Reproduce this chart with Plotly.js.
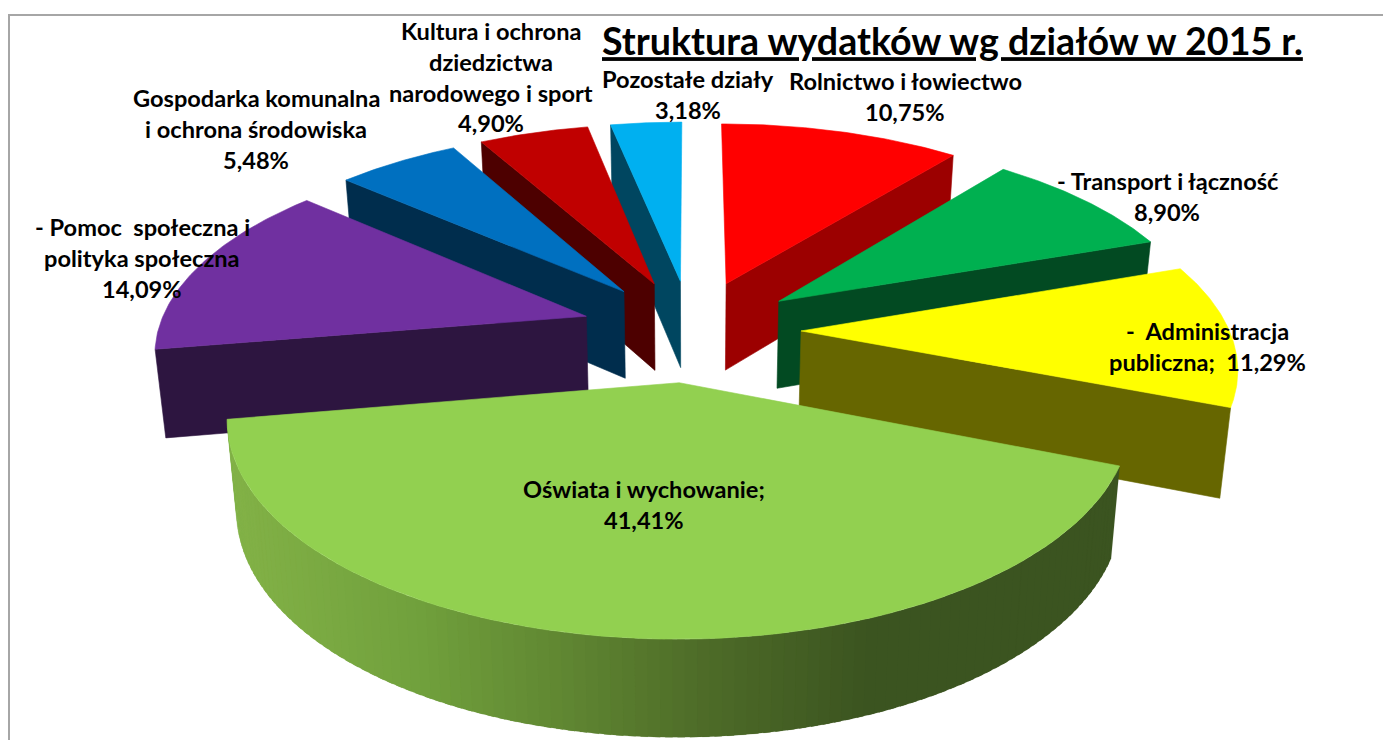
<!DOCTYPE html>
<html><head><meta charset="utf-8">
<script src="https://cdn.plot.ly/plotly-3.0.1.min.js"></script>
<style>html,body{margin:0;padding:0;background:#fff}#c{width:1383px;height:740px}</style>
</head><body><div id="c"></div>
<script>
// ---- data ----
const categories = ["Rolnictwo i łowiectwo","Transport i łączność","Administracja publiczna","Oświata i wychowanie","Pomoc społeczna i polityka społeczna","Gospodarka komunalna i ochrona środowiska","Kultura i ochrona dziedzictwa narodowego i sport","Pozostałe działy"];
const values = [10.75, 8.90, 11.29, 41.41, 14.09, 5.48, 4.90, 3.18];
const topColors = ["#FF0000","#00B050","#FFFF00","#92D050","#7030A0","#0070C0","#C00000","#00B0F0"];
const wallColors = ["#9C0000","#024A22","#666600","#3B5420","#2D1540","#002D4D","#4D0000","#004660"];
const labelLines = [
  ["Rolnictwo i łowiectwo","{p}"],
  ["- Transport i łączność","{p}"],
  ["-  Administracja","publiczna;  {p}"],
  ["Oświata i wychowanie;","{p}"],
  ["- Pomoc  społeczna i","polityka społeczna","{p}"],
  ["Gospodarka komunalna","i ochrona środowiska","{p}"],
  ["Kultura i ochrona","dziedzictwa","narodowego i sport","{p}"],
  ["Pozostałe działy","{p}"]
];
const titleText = "Struktura wydatków wg działów w 2015 r.";

// ---- layout / projection constants ----
const labelAnchors = [[905,81],[1167,181],[1207,331],[644,489],[142,227],[256,98],[491,31],[688,79]];
const lineGap = 30.8;
const P = {cx:691, cy:330, rx:428, ry:198, persp:0.156, pull:0.257, h:88, inset:0.98};
const drawOrder = [7,6,5,0,1,4,2,3];
const gradStops = [[228,[131,178,71]],[420,[112,160,60]],[560,[96,135,50]],[700,[78,108,40]],[870,[59,84,32]],[1400,[59,84,32]]];

function project(X,Y,bottom){
  const s = 1/(1+P.persp*Y);
  let x = P.cx + P.rx*X*s, y = P.cy - P.ry*Y*s;
  if(bottom){ x = P.cx + (x-P.cx)*P.inset; y += P.h*Math.sqrt(s); }
  return [x,y];
}
function gradColor(x){
  for(let i=1;i<gradStops.length;i++){
    if(x<=gradStops[i][0]){
      const a=gradStops[i-1], b=gradStops[i], t=Math.max(0,(x-a[0])/(b[0]-a[0]));
      const c=a[1].map((v,k)=>Math.round(v+(b[1][k]-v)*t));
      return `rgb(${c[0]},${c[1]},${c[2]})`;
    }
  }
  return "rgb(59,84,32)";
}
function poly(pts,color,w){
  const xs=pts.map(p=>p[0]).concat(pts[0][0]), ys=pts.map(p=>p[1]).concat(pts[0][1]);
  return {type:"scatter",mode:"lines",x:xs,y:ys,fill:"toself",fillcolor:color,
    line:{color:color,width:w||0.6},hoverinfo:"skip",showlegend:false};
}

const total = values.reduce((a,b)=>a+b,0);
let acc=0;
const slices = values.map((v,i)=>{
  const a0=acc/total*2*Math.PI; acc+=v; const a1=acc/total*2*Math.PI;
  const mid=(a0+a1)/2;
  return {i,a0,a1,mid,ox:P.pull*Math.sin(mid),oy:P.pull*Math.cos(mid)};
});
const traces=[];
drawOrder.forEach(idx=>{
  const S=slices[idx];
  const pt=(a,b)=>project(S.ox+Math.sin(a),S.oy+Math.cos(a),b);
  const apex=b=>project(S.ox,S.oy,b);
  if(S.a0>Math.PI/2 && S.a1>Math.PI*1.4 && S.a0<Math.PI){
    // the large front slice: rim wall with a lengthwise shading, each band overlapping the next
    const n=110;
    for(let k=0;k<n;k++){
      const a=S.a0+(S.a1-S.a0)*k/n, b=S.a0+(S.a1-S.a0)*(k+1.6)/n;
      const p=pt(S.a0+(S.a1-S.a0)*(k+0.5)/n,false);
      traces.push(poly([pt(a,false),pt(Math.min(b,S.a1),false),pt(Math.min(b,S.a1),true),pt(a,true)],gradColor(p[0]),0.1));
    }
  } else {
    const a=S.mid<Math.PI?S.a1:S.a0;
    traces.push(poly([apex(false),pt(a,false),pt(a,true),apex(true)],wallColors[idx]));
  }
  const top=[apex(false)];
  const m=70;
  for(let k=0;k<=m;k++) top.push(pt(S.a0+(S.a1-S.a0)*k/m,false));
  traces.push(poly(top,topColors[idx]));
});

const fmt=v=>v.toFixed(2).replace(".",",")+"%";
const annotations=[];
labelLines.forEach((lines,i)=>{
  lines.forEach((ln,j)=>{
    annotations.push({xref:"x",yref:"y",x:labelAnchors[i][0],y:labelAnchors[i][1]+j*lineGap,
      text:"<b>"+ln.replace("{p}",fmt(values[i]))+"</b>",showarrow:false,xanchor:"center",yanchor:"middle",
      font:{family:"Lato, sans-serif",size:23.6,color:"#000"}});
  });
});

const layout={
  width:1383,height:740,margin:{l:0,r:0,t:0,b:0},paper_bgcolor:"#fff",plot_bgcolor:"#fff",showlegend:false,
  title:{text:"<b><u>"+titleText+"</u></b>",x:602/1383,xanchor:"left",xref:"paper",y:1-42/740,yref:"paper",yanchor:"middle",
    font:{family:"Lato, sans-serif",size:37.6,color:"#000"}},
  xaxis:{range:[0,1383],visible:false,fixedrange:true},
  yaxis:{range:[740,0],visible:false,fixedrange:true},
  shapes:[{type:"rect",xref:"x",yref:"y",x0:9,y0:15,x1:1420,y1:780,line:{color:"#A6A6A6",width:2},layer:"below"}],
  annotations
};
Plotly.newPlot("c",traces,layout,{displayModeBar:false,staticPlot:true});
</script></body></html>
